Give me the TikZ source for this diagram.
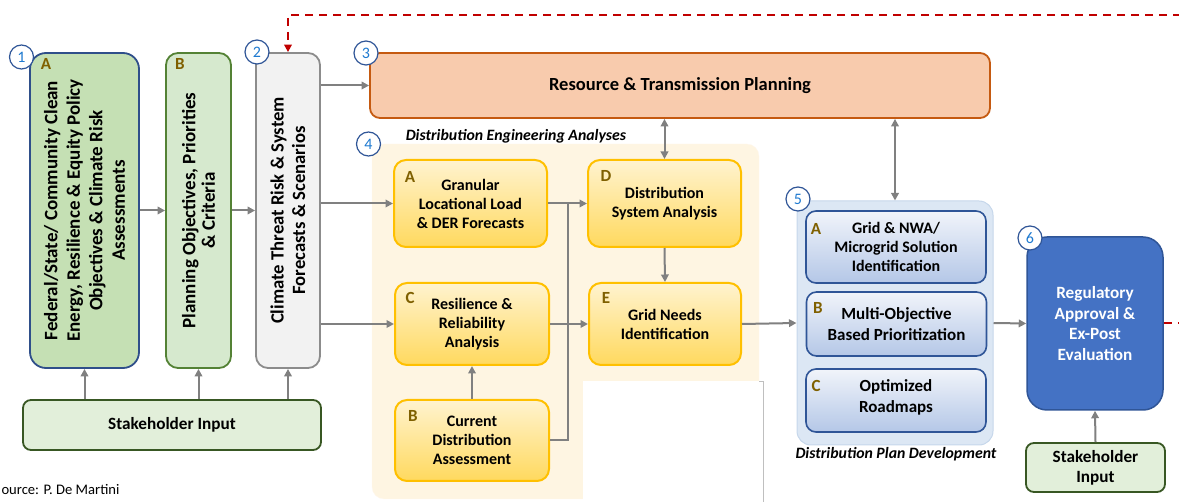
\documentclass[tikz,border=0pt]{standalone}
\usepackage{fontspec}
\setmainfont{Carlito}
\usetikzlibrary{arrows.meta,calc}

\definecolor{fedfill}{HTML}{C5E0B4}
\definecolor{fedline}{HTML}{2F4F8A}
\definecolor{objfill}{HTML}{D6E9CE}
\definecolor{objline}{HTML}{548235}
\definecolor{climfill}{HTML}{F2F2F2}
\definecolor{climline}{HTML}{8C8C8C}
\definecolor{stkfill}{HTML}{E2EFDA}
\definecolor{stkline}{HTML}{385723}
\definecolor{rtpfill}{HTML}{F8CBAD}
\definecolor{rtpline}{HTML}{C55A11}
\definecolor{engpanel}{HTML}{FEF5E2}
\definecolor{engtop}{HTML}{FFF3CF}
\definecolor{engbot}{HTML}{FFD95E}
\definecolor{engline}{HTML}{FFC000}
\definecolor{planpanel}{HTML}{DCE7F4}
\definecolor{planedge}{HTML}{C6D7EB}
\definecolor{plantop}{HTML}{F1F4FA}
\definecolor{planbot}{HTML}{B4C7E7}
\definecolor{planline}{HTML}{2F5597}
\definecolor{regfill}{HTML}{4472C4}
\definecolor{arrowgray}{HTML}{808080}
\definecolor{loopred}{HTML}{C00000}
\definecolor{badgeline}{HTML}{2F5597}
\definecolor{badgetext}{HTML}{1F7AD0}
\definecolor{letterbrown}{HTML}{7F6000}

% numbered step badge: name, x, y, number
\newcommand\stepbadge[4]{%
    \node[badge] (#1) at (#2,#3) {#4};}
% brown letter in the corner of a box: name, x, y, letter
\newcommand\boxletter[4]{%
    \node[letter] (#1) at (#2,#3) {#4};}

\begin{document}
\begin{tikzpicture}[x={(1pt,0pt)},y={(0pt,-1pt)},
    font=\fontsize{16}{19}\selectfont\bfseries,
    gline/.style={draw=arrowgray,line width=2pt},
    arr/.style={gline,-{Triangle[length=7.5pt,width=7.5pt]}},
    dblarr/.style={gline,{Triangle[length=7.5pt,width=7.5pt]}-{Triangle[length=7.5pt,width=7.5pt]}},
    badge/.style={circle,draw=badgeline,fill=white,line width=1.2pt,minimum size=24pt,inner sep=0pt,
        text=badgetext,font=\fontsize{16}{16}\selectfont},
    letter/.style={text=letterbrown,font=\fontsize{17}{17}\selectfont\bfseries},
    tallbox/.style={rotate=90,line width=1.8pt,align=center,minimum width=315pt,inner sep=0pt},
    engbox/.style={draw=engline,line width=2pt,rounded corners=12pt,top color=engtop,bottom color=engbot,
        align=center,inner sep=0pt},
    planbox/.style={draw=planline,line width=1.6pt,rounded corners=10pt,top color=plantop,bottom color=planbot,
        align=center,inner sep=0pt,minimum width=180pt,font=\fontsize{17}{20.5}\selectfont\bfseries},
    stkbox/.style={draw=stkline,fill=stkfill,line width=1.8pt,rounded corners=8pt,align=center,
        font=\fontsize{17.2}{20}\selectfont\bfseries},
    italictag/.style={font=\fontsize{15.8}{17}\selectfont\bfseries\itshape}]
\useasboundingbox (0,0) rectangle (1179,502);

% panels
\node[fill=engpanel,draw=engpanel!80!orange!20,rounded corners=12pt,minimum width=387pt,minimum height=355pt] (eng) at (565.5,321.5) {};
\fill[white] (583,381) rectangle (763,510);
\draw[black!25,line width=0.8pt] (759,381) -- (763,381) -- (763,510);
\node[fill=planpanel,draw=planedge,line width=1pt,rounded corners=14pt,minimum width=196pt,minimum height=244pt] (dpd) at (895,323) {};
\node[italictag] (engtag) at (516,136) {Distribution Engineering Analyses};
\node[italictag] (dpdtag) at (896,454) {Distribution Plan Development};

% left column
\node[tallbox,draw=fedline,fill=fedfill,rounded corners=16pt,minimum height=109pt,
    font=\fontsize{19}{22.5}\selectfont\bfseries] (fed) at (84.5,210.5)
    {Federal/State/ Community Clean\\Energy, Resilience \& Equity Policy\\Objectives \& Climate Risk\\Assessments};
\node[tallbox,draw=objline,fill=objfill,rounded corners=12pt,minimum height=65pt,
    font=\fontsize{19}{19.5}\selectfont\bfseries] (obj) at (198.5,210.5)
    {Planning Objectives, Priorities\\\& Criteria};
\node[tallbox,draw=climline,fill=climfill,rounded corners=12pt,minimum height=64pt,
    font=\fontsize{18.7}{21.5}\selectfont\bfseries] (clim) at (288,210.5)
    {Climate Threat Risk \& System\\Forecasts \& Scenarios};
\node[stkbox,minimum width=298pt,minimum height=50pt] (stk) at (172,425) {Stakeholder Input};

% resource planning
\node[draw=rtpline,fill=rtpfill,line width=1.8pt,rounded corners=10pt,minimum width=620pt,minimum height=65pt,
    font=\fontsize{18.5}{20}\selectfont\bfseries] (rtp) at (680,85.5) {Resource \& Transmission Planning};

% distribution engineering analyses
\node[engbox,minimum width=153pt,minimum height=87pt] (gran) at (470.5,203.5) {Granular\\Locational Load\\\& DER Forecasts};
\node[engbox,minimum width=153pt,minimum height=87pt] (dsa) at (664.5,203.5) {Distribution\\System Analysis};
\node[engbox,minimum width=154pt,minimum height=82pt] (rra) at (472,324) {Resilience \&\\Reliability\\Analysis};
\node[engbox,minimum width=152pt,minimum height=82pt] (gne) at (665,324) {Grid Needs\\Identification};
\node[engbox,minimum width=154pt,minimum height=81pt] (cur) at (472,440.5) {Current\\Distribution\\Assessment};

% distribution plan development
\node[planbox,minimum height=72pt,font=\fontsize{16}{19}\selectfont\bfseries] (sol) at (896,247) {Grid \& NWA/\\Microgrid Solution\\Identification};
\node[planbox,minimum height=64pt] (moo) at (896.5,324) {Multi-Objective\\Based Prioritization};
\node[planbox,minimum height=63pt,text depth=9pt] (road) at (896,400.5) {Optimized\\Roadmaps};

% regulatory approval
\node[draw=planline,fill=regfill,line width=1.5pt,rounded corners=20pt,minimum width=136pt,minimum height=173pt,
    text=white,align=center,font=\fontsize{17.2}{20.5}\selectfont\bfseries] (reg) at (1095,323.5)
    {Regulatory\\Approval \&\\Ex-Post\\Evaluation};
\node[stkbox,minimum width=139pt,minimum height=49pt,inner sep=0pt] (stk2) at (1095.5,467.5) {Stakeholder\\Input};

% letters
\boxletter{fedA}{46}{64}{A}
\boxletter{objB}{180}{64}{B}
\boxletter{granA}{410}{177}{A}
\boxletter{dsaD}{606}{176}{D}
\boxletter{rraC}{410}{298}{C}
\boxletter{gneE}{606}{298}{E}
\boxletter{curB}{413}{416}{B}
\boxletter{solA}{816}{229}{A}
\boxletter{mooB}{818}{308}{B}
\boxletter{roadC}{816}{386}{C}

% connectors
\draw[arr] (fed.south) -- (obj.north);
\draw[arr] (obj.south) -- (clim.north);
\foreach \col in {fed,obj,clim}
    \draw[arr] (\col.west |- stk.north) -- (\col.west);
\draw[arr] (clim.south |- rtp.west) -- (rtp.west);
\draw[arr] (clim.south |- gran.west) -- (gran.west);
\draw[arr] (clim.south |- rra.west) -- (rra.west);
\draw[arr] (gran.east) -- (dsa.west);
\draw[arr] (rra.east) -- (gne.west);
\draw[gline] (cur.east) -| ($(gran.east)!0.5!(dsa.west)$);
\draw[arr] (cur.north) -- (rra.south);
\draw[arr] (dsa.south) -- (gne.north);
\draw[dblarr] (dsa.north) -- (dsa.north |- rtp.south);
\draw[dblarr] (dpd.north) -- (dpd.north |- rtp.south);
\draw[arr] (gne.east) -- (dpd.west);
\draw[arr] (dpd.east) -- (reg.west);
\draw[arr] (stk2.north) -- (reg.south);

% feedback loop (dashed)
\coordinate (loopR) at (1195,15);
\draw[draw=loopred,line width=2pt,dash pattern=on 8pt off 6pt] (reg.east) -- (reg.east -| loopR);
\draw[draw=loopred,line width=2pt,dash pattern=on 8pt off 6pt,-{Triangle[length=7.5pt,width=7.5pt]}] (loopR) -| (clim.east);

% step badges
\stepbadge{s1}{21.5}{57}{1}
\stepbadge{s2}{257}{52}{2}
\stepbadge{s3}{366}{53}{3}
\stepbadge{s4}{368.5}{144}{4}
\stepbadge{s5}{798}{199}{5}
\stepbadge{s6}{1030}{238}{6}

\node[anchor=west,font=\fontsize{14.6}{16}\selectfont] (src) at (-2,490) {ource: P. De Martini};
\end{tikzpicture}
\end{document}
